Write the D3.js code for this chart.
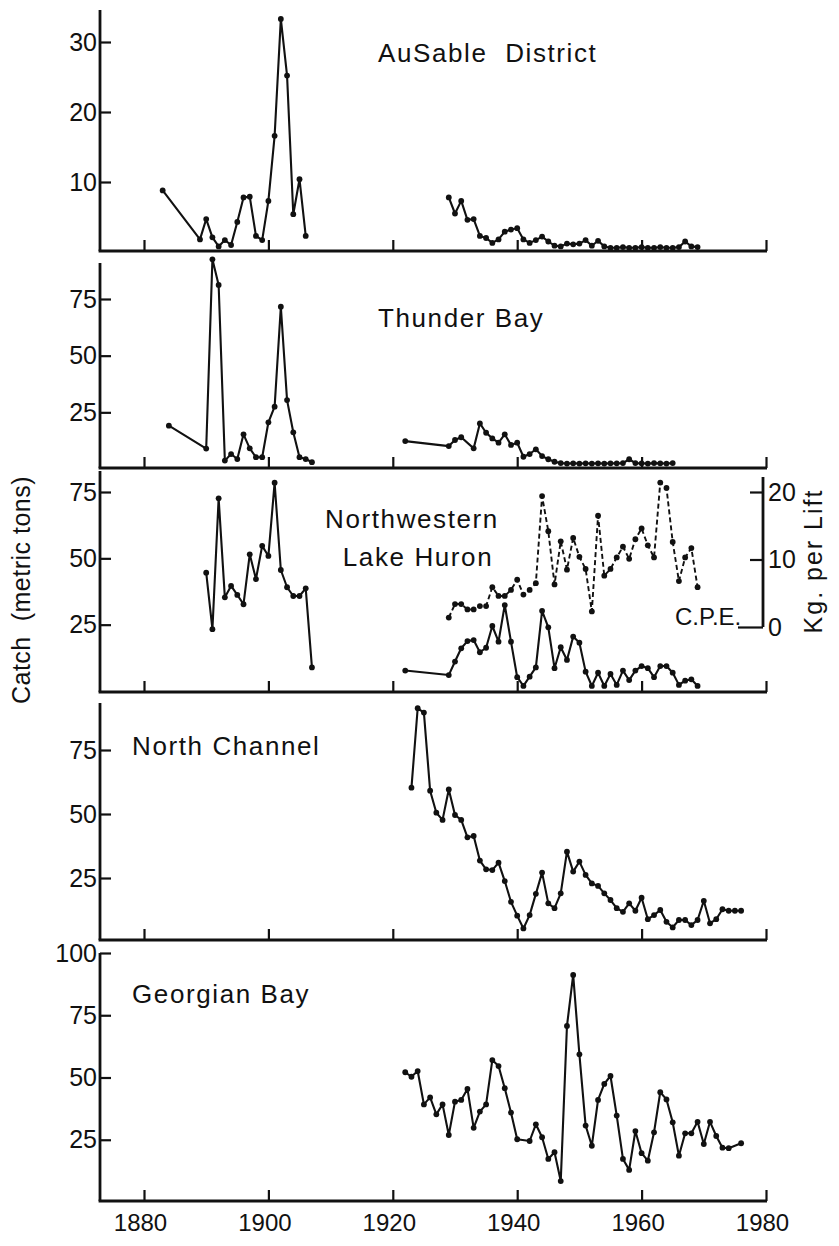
<!DOCTYPE html>
<html>
<head>
<meta charset="utf-8">
<script src="https://cdn.jsdelivr.net/npm/d3@7"></script>
<style>
  body { margin: 0; background: #fff; }
  svg text { font-family: "Liberation Sans", Arial, Helvetica, sans-serif; fill: #111; }
</style>
</head>
<body>
<div id="chart"></div>
<script>
/* DATA (catch in metric tons, C.P.E. in kg per lift) */
const xTickYears = [1880, 1900, 1920, 1940, 1960, 1980];

const ausableYears1 = [1883, 1889, 1890, 1891, 1892, 1893, 1894, 1895, 1896, 1897, 1898, 1899, 1900, 1901, 1902, 1903, 1904, 1905, 1906];
const ausableCatch1 = [8.8, 1.8, 4.7, 2.1, 0.8, 1.7, 1.0, 4.3, 7.8, 7.9, 2.3, 1.7, 7.3, 16.6, 33.3, 25.2, 5.4, 10.4, 2.3];
const ausableYears2 = [1929, 1930, 1931, 1932, 1933, 1934, 1935, 1936, 1937, 1938, 1939, 1940, 1941, 1942, 1943, 1944, 1945, 1946, 1947, 1948, 1949,
  1950, 1951, 1952, 1953, 1954, 1955, 1956, 1957, 1958, 1959, 1960, 1961, 1962, 1963, 1964, 1965, 1966, 1967, 1968, 1969];
const ausableCatch2 = [7.8, 5.5, 7.3, 4.6, 4.7, 2.3, 2.0, 1.3, 1.8, 2.9, 3.2, 3.4, 1.8, 1.3, 1.7, 2.2, 1.5, 0.9, 0.8, 1.2, 1.1,
  1.2, 1.7, 0.9, 1.6, 0.8, 0.6, 0.6, 0.7, 0.6, 0.6, 0.7, 0.6, 0.6, 0.7, 0.6, 0.6, 0.7, 1.5, 0.8, 0.7];

const thunderYears1 = [1884, 1890, 1891, 1892, 1893, 1894, 1895, 1896, 1897, 1898, 1899, 1900, 1901, 1902, 1903, 1904, 1905, 1906, 1907];
const thunderCatch1 = [19.1, 9.0, 92.5, 81.2, 3.7, 6.6, 4.4, 15.3, 9.1, 5.2, 5.2, 20.6, 27.5, 71.6, 30.4, 16.2, 5.2, 4.4, 3.0];
const thunderYears2 = [1922, 1929, 1930, 1931, 1933, 1934, 1935, 1936, 1937, 1938, 1939, 1940, 1941, 1942, 1943, 1944, 1945, 1946,
  1947, 1948, 1949, 1950, 1951, 1952, 1953, 1954, 1955, 1956, 1957, 1958, 1959, 1960, 1961, 1962, 1963, 1964, 1965];
const thunderCatch2 = [12.3, 10.1, 12.8, 14.0, 9.1, 20.1, 16.0, 13.5, 11.6, 15.3, 10.6, 11.6, 5.4, 6.6, 8.7, 5.7, 4.3, 3.2,
  2.6, 2.4, 2.5, 2.4, 2.5, 2.4, 2.5, 2.4, 2.5, 2.5, 2.6, 4.3, 2.6, 2.5, 2.4, 2.6, 2.5, 2.4, 2.6];

const nwYears1 = [1890, 1891, 1892, 1893, 1894, 1895, 1896, 1897, 1898, 1899, 1900, 1901, 1902, 1903, 1904, 1905, 1906, 1907];
const nwCatch1 = [44.6, 23.3, 72.6, 35.3, 39.6, 36.2, 32.7, 51.5, 42.2, 54.7, 50.9, 78.5, 45.6, 39.1, 35.8, 35.8, 38.7, 8.9];
const nwYears2 = [1922, 1929, 1930, 1931, 1932, 1933, 1934, 1935, 1936, 1937, 1938, 1939, 1940, 1941, 1942, 1943, 1944, 1945, 1946, 1947, 1948,
  1949, 1950, 1951, 1952, 1953, 1954, 1955, 1956, 1957, 1958, 1959, 1960, 1961, 1962, 1963, 1964, 1965, 1966, 1967, 1968, 1969];
const nwCatch2 = [7.7, 6.0, 11.1, 16.1, 18.8, 19.2, 14.6, 16.3, 24.5, 18.6, 32.4, 18.6, 5.2, 1.9, 5.4, 8.9, 30.2, 24.0, 8.6, 16.5, 11.7,
  20.5, 18.2, 7.3, 1.9, 6.9, 1.9, 6.4, 2.3, 7.7, 4.1, 7.7, 9.4, 8.6, 5.2, 9.4, 9.4, 6.9, 2.3, 3.9, 4.4, 1.9];
const cpeYears = nwYears2.slice(1);
const cpeKgPerLift = [1.4, 3.4, 3.4, 2.6, 2.6, 3.1, 3.1, 5.9, 4.6, 4.6, 5.5, 7.0, 4.8, 5.5, 6.5, 19.4, 14.2, 6.3, 12.7, 8.5,
  13.2, 10.4, 8.6, 2.3, 16.5, 7.6, 8.6, 10.3, 11.9, 10.1, 13.0, 14.6, 12.1, 10.3, 21.4, 20.6, 12.6, 6.8, 10.3, 11.7, 5.9];

const northChannelYears = d3.range(1923, 1977);
const northChannelCatch = [60.3, 91.3, 89.6, 59.1, 50.5, 47.7, 59.6, 49.6, 47.7, 40.9,
  41.4, 31.8, 28.4, 28.1, 31.0, 23.8, 15.7, 10.3, 5.3, 10.5,
  18.8, 27.1, 15.1, 13.2, 19.0, 35.3, 27.5, 31.4, 26.2, 22.9,
  21.9, 19.0, 16.4, 13.2, 11.8, 15.1, 12.2, 17.3, 8.9, 10.5,
  12.5, 7.9, 5.7, 8.6, 8.6, 6.6, 8.6, 16.1, 7.3, 8.9,
  12.8, 12.2, 12.2, 12.2];

const georgianYears = d3.range(1922, 1941).concat(d3.range(1942, 1975), [1976]);
const georgianCatch = [52.1, 50.3, 52.6, 39.2, 42.0, 35.2, 39.2, 26.9, 40.3, 41.0, 45.4, 29.8, 36.3, 39.2, 57.0, 54.6, 45.7, 35.9, 25.2,
  24.5, 31.2, 26.0, 17.3, 20.0, 8.4, 70.7, 91.2, 59.3, 30.7, 22.6, 41.0, 47.4, 50.6, 34.7, 17.3, 12.9, 28.5, 19.6, 16.6, 28.0,
  44.1, 41.2, 32.0, 18.6, 27.6, 27.6, 32.2, 23.3, 32.2, 26.5, 21.8, 21.6, 23.6];

/* CONSTANTS */
const width = 839, height = 1246;
const axisX = 100, axisRight = 766;

const svg = d3.select("#chart")
  .append("svg")
  .attr("width", width)
  .attr("height", height)

const x = d3.scaleLinear().domain([1880, 1980]).range([144, 766])

const zip = (yrs, vals) => yrs.map((yr, i) => ({ year: yr, value: vals[i] }))

// one entry per stacked panel
const panels = [
  { top: 10, base: 251, y: d3.scaleLinear().domain([0, 30]).range([252, 42]), ticks: [10, 20, 30],
    series: [zip(ausableYears1, ausableCatch1), zip(ausableYears2, ausableCatch2)],
    labels: [{ text: "AuSable  District", x: 378, y: 62 }] },
  { top: 263, base: 468, y: d3.scaleLinear().domain([0, 75]).range([469, 299]), ticks: [25, 50, 75],
    series: [zip(thunderYears1, thunderCatch1), zip(thunderYears2, thunderCatch2)],
    labels: [{ text: "Thunder Bay", x: 378, y: 327 }] },
  { top: 471, base: 692, y: d3.scaleLinear().domain([0, 75]).range([691, 492]), ticks: [25, 50, 75],
    series: [zip(nwYears1, nwCatch1), zip(nwYears2, nwCatch2)],
    labels: [{ text: "Northwestern", x: 412, y: 528, anchor: "middle" },
             { text: "Lake Huron", x: 418, y: 566, anchor: "middle" }] },
  { top: 703, base: 940, y: d3.scaleLinear().domain([0, 75]).range([942, 750]), ticks: [25, 50, 75],
    series: [zip(northChannelYears, northChannelCatch)],
    labels: [{ text: "North Channel", x: 132, y: 755 }] },
  { top: 953, base: 1201, y: d3.scaleLinear().domain([0, 100]).range([1202, 953]), ticks: [25, 50, 75, 100],
    series: [zip(georgianYears, georgianCatch)],
    labels: [{ text: "Georgian Bay", x: 132, y: 1003 }] }
]

const line = d3.line()

panels.forEach((p, i) => {
  const g = svg.append("g")
  const last = i === panels.length - 1

  // axis lines
  g.append("line")
    .attr("x1", axisX).attr("x2", axisX)
    .attr("y1", p.top).attr("y2", p.base)
    .attr("stroke", "#111").attr("stroke-width", 2.8)
  g.append("line")
    .attr("x1", axisX - 1.4).attr("x2", axisRight + 1)
    .attr("y1", p.base).attr("y2", p.base)
    .attr("stroke", "#111").attr("stroke-width", 2.8)

  // year ticks (point up into the panel)
  const xAxis = d3.axisBottom(x)
    .tickValues(xTickYears)
    .tickSize(-11)
    .tickSizeOuter(0)
    .tickPadding(13)
    .tickFormat(last ? d3.format("d") : "")
  const gx = g.append("g")
    .attr("transform", `translate(0,${p.base})`)
    .call(xAxis)
  gx.select(".domain").remove()
  gx.selectAll(".tick line").attr("stroke", "#111").attr("stroke-width", 2.2)
  gx.selectAll(".tick text")
    .attr("dy", "0.71em")
    .attr("dx", -4)
    .style("font-size", "24px")

  // catch ticks (point right into the panel)
  const yAxis = d3.axisLeft(p.y)
    .tickValues(p.ticks)
    .tickSize(-11)
    .tickSizeOuter(0)
    .tickPadding(3)
    .tickFormat(d3.format("d"))
  const gy = g.append("g")
    .attr("transform", `translate(${axisX},0)`)
    .call(yAxis)
  gy.select(".domain").remove()
  gy.selectAll(".tick line").attr("stroke", "#111").attr("stroke-width", 2.2)
  gy.selectAll(".tick text").style("font-size", "25px")

  // series
  p.series.forEach(s => {
    line.x(d => x(d.year)).y(d => p.y(d.value))
    g.append("path")
      .datum(s)
      .attr("d", line)
      .attr("fill", "none")
      .attr("stroke", "#111")
      .attr("stroke-width", 2.1)
      .attr("stroke-linejoin", "round")
    g.selectAll(null)
      .data(s)
      .join("circle")
      .attr("cx", d => x(d.year))
      .attr("cy", d => p.y(d.value))
      .attr("r", 2.9)
      .attr("fill", "#111")
  })

  p.labels.forEach(l => {
    g.append("text")
      .attr("x", l.x)
      .attr("y", l.y)
      .attr("text-anchor", l.anchor || "start")
      .style("font-size", "26px")
      .style("letter-spacing", "1.6px")
      .style("white-space", "pre")
      .text(l.text)
  })
})

// C.P.E. on right axis of the Northwestern Lake Huron panel
const yCpe = d3.scaleLinear().domain([0, 20]).range([627, 492])
const cpeAxisX = 763

svg.append("line")
  .attr("x1", cpeAxisX).attr("x2", cpeAxisX)
  .attr("y1", 477).attr("y2", yCpe(0))
  .attr("stroke", "#111").attr("stroke-width", 2.8)

const gr = svg.append("g")
  .attr("transform", `translate(${cpeAxisX},0)`)
  .call(d3.axisRight(yCpe).tickValues([0, 10, 20]).tickSize(-13).tickSizeOuter(0).tickPadding(5))
gr.select(".domain").remove()
gr.selectAll(".tick line").attr("stroke", "#111").attr("stroke-width", 2.2)
gr.selectAll(".tick text").style("font-size", "25px")
gr.selectAll(".tick").filter(d => d === 0).select("line").attr("x2", -25)

line.x(d => x(d.year)).y(d => yCpe(d.value))
const cpe = zip(cpeYears, cpeKgPerLift)
svg.append("path")
  .datum(cpe)
  .attr("d", line)
  .attr("fill", "none")
  .attr("stroke", "#111")
  .attr("stroke-width", 1.9)
  .attr("stroke-dasharray", "5,3")
svg.selectAll("circle.cpe")
  .data(cpe)
  .join("circle")
  .attr("class", "cpe")
  .attr("cx", d => x(d.year))
  .attr("cy", d => yCpe(d.value))
  .attr("r", 2.9)
  .attr("fill", "#111")

svg.append("text")
  .attr("x", 675).attr("y", 625)
  .style("font-size", "24px")
  .text("C.P.E.")

// axis titles
svg.append("text")
  .attr("transform", "translate(30,590) rotate(-90)")
  .attr("text-anchor", "middle")
  .style("font-size", "25px")
  .style("letter-spacing", "0.5px")
  .style("white-space", "pre")
  .text("Catch  (metric tons)")

svg.append("text")
  .attr("transform", "translate(822,561) rotate(-90)")
  .attr("text-anchor", "middle")
  .style("font-size", "25px")
  .style("letter-spacing", "2px")
  .text("Kg. per Lift")
</script>
</body>
</html>
